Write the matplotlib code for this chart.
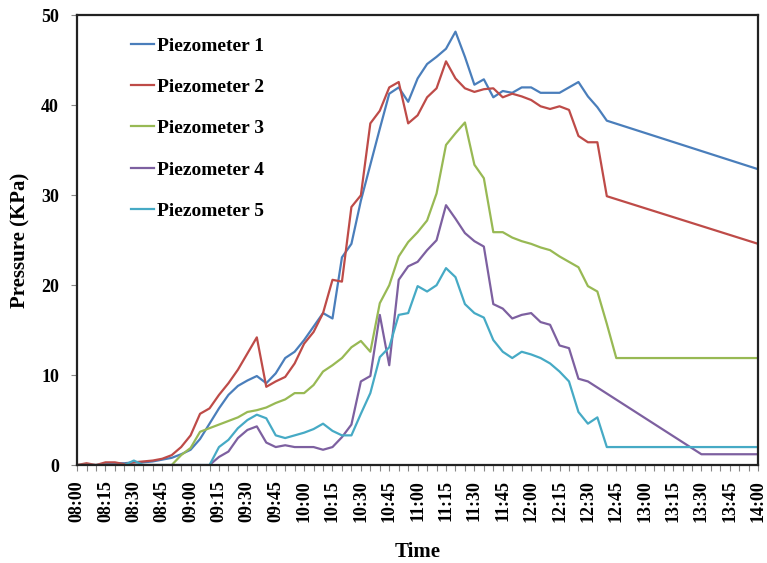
import matplotlib
matplotlib.use("Agg")
import matplotlib.pyplot as plt
from matplotlib.ticker import MultipleLocator

plt.rcParams["font.family"] = ["Liberation Serif", "DejaVu Serif"]
plt.rcParams["font.weight"] = "bold"

# readings every 5 minutes from 08:00; straight tails listed separately
START = "08:00"
STEP = 5

p1 = [0, 0, 0, 0.1, 0.2, 0.2, 0.3, 0.3, 0.4, 0.6,
      0.8, 1.2, 1.7, 2.9, 4.6, 6.3, 7.8, 8.8, 9.4, 9.9,
      9.1, 10.2, 11.9, 12.6, 13.9, 15.4, 16.9, 16.3, 23.1, 24.6,
      29.4, 33.4, 37.4, 41.3, 42.0, 40.4, 43.0, 44.6, 45.4, 46.3,
      48.2, 45.4, 42.3, 42.9, 40.9, 41.6, 41.4, 42.0, 42.0, 41.4,
      41.4, 41.4, 42.0, 42.6, 41.0, 39.8, 38.3]
p1_tail_t = ["14:00"]
p1_tail = [32.9]

p2 = [0, 0.2, 0, 0.3, 0.3, 0.1, 0.3, 0.4, 0.5, 0.7,
      1.1, 2.0, 3.3, 5.7, 6.3, 7.8, 9.1, 10.6, 12.4, 14.2,
      8.7, 9.3, 9.8, 11.3, 13.5, 14.8, 16.9, 20.6, 20.4, 28.7,
      30.0, 38.0, 39.4, 42.0, 42.6, 38.0, 38.9, 40.9, 41.9, 44.9,
      43.0, 41.9, 41.5, 41.8, 41.9, 40.9, 41.3, 41.0, 40.6, 39.9,
      39.6, 39.9, 39.5, 36.6, 35.9, 35.9, 29.9]
p2_tail_t = ["14:00"]
p2_tail = [24.6]

p3 = [0, 0, 0, 0, 0, 0, 0, 0, 0, 0,
      0, 1.1, 1.9, 3.7, 4.1, 4.5, 4.9, 5.3, 5.9, 6.1,
      6.4, 6.9, 7.3, 8.0, 8.0, 8.9, 10.4, 11.1, 11.9, 13.1,
      13.8, 12.6, 18.0, 20.0, 23.2, 24.8, 25.9, 27.2, 30.2, 35.6,
      36.9, 38.1, 33.4, 31.9, 25.9, 25.9, 25.3, 24.9, 24.6, 24.2,
      23.9, 23.2, 22.6, 22.0, 19.9, 19.3, 15.7]
p3_tail_t = ["12:45", "14:00"]
p3_tail = [11.9, 11.9]

p4 = [0, 0, 0, 0, 0, 0, 0, 0, 0, 0,
      0, 0, 0, 0, 0, 0.9, 1.5, 3.0, 3.9, 4.3,
      2.5, 2.0, 2.2, 2.0, 2.0, 2.0, 1.7, 2.0, 3.1, 4.5,
      9.3, 9.9, 16.7, 11.1, 20.6, 22.1, 22.6, 23.9, 25.0, 28.9,
      27.4, 25.8, 24.9, 24.3, 17.9, 17.4, 16.3, 16.7, 16.9, 15.9,
      15.6, 13.3, 13.0, 9.6, 9.3]
p4_tail_t = ["13:30", "14:00"]
p4_tail = [1.2, 1.2]

p5 = [0, 0, 0, 0, 0, 0, 0.5, 0, 0, 0,
      0, 0, 0, 0, 0, 2.0, 2.8, 4.1, 5.0, 5.6,
      5.2, 3.3, 3.0, 3.3, 3.6, 4.0, 4.6, 3.8, 3.3, 3.3,
      5.7, 8.0, 12.0, 13.1, 16.7, 16.9, 19.9, 19.3, 20.0, 21.9,
      20.9, 17.9, 16.9, 16.4, 13.9, 12.6, 11.9, 12.6, 12.3, 11.9,
      11.3, 10.4, 9.3, 5.9, 4.6, 5.3, 2.0]
p5_tail_t = ["14:00"]
p5_tail = [2.0]

labels = ["Piezometer 1", "Piezometer 2", "Piezometer 3", "Piezometer 4", "Piezometer 5"]
colors = ["#4A7EBB", "#BE4B48", "#98B954", "#7D60A0", "#46AAC5"]

to_min_start = int(START[:2]) * 60 + int(START[3:])


def to_min(s):
    h, m = s.split(":")
    return int(h) * 60 + int(m) - to_min_start


def series(vals, tail_t, tail_v):
    t = [i * STEP for i in range(len(vals))] + [to_min(s) for s in tail_t]
    return t, list(vals) + list(tail_v)


fig = plt.figure(figsize=(7.67, 5.63), dpi=100)
ax = fig.add_axes([0.1005, 0.174, 0.8880, 0.7985])

data = [(p1, p1_tail_t, p1_tail), (p2, p2_tail_t, p2_tail), (p3, p3_tail_t, p3_tail),
        (p4, p4_tail_t, p4_tail), (p5, p5_tail_t, p5_tail)]
for (v, tt, tv), lab, col in zip(data, labels, colors):
    t, y = series(v, tt, tv)
    ax.plot(t, y, color=col, lw=1.6, label=lab)

ax.set_xlim(0, 360)
ax.set_ylim(0, 50)
ax.xaxis.set_minor_locator(MultipleLocator(5))
ax.yaxis.set_major_locator(MultipleLocator(10))
ticks = list(range(0, 361, 15))
ax.set_xticks(ticks)
ax.set_xticklabels([f"{(to_min_start + m) // 60:02d}:{(to_min_start + m) % 60:02d}" for m in ticks],
                   rotation=90, fontsize=13, fontweight="bold")
for lbl in ax.get_yticklabels():
    lbl.set_fontsize(13)
    lbl.set_fontweight("bold")
ax.tick_params(axis="both", which="both", direction="out", length=4, width=0.8, color="#888888")
ax.tick_params(axis="x", pad=7)
ax.tick_params(axis="y", pad=9)
for sp in ax.spines.values():
    sp.set_linewidth(1.6)
    sp.set_color("#222222")

ax.set_xlabel("Time", fontsize=15, fontweight="bold", labelpad=14)
ax.set_ylabel("Pressure (KPa)", fontsize=15, fontweight="bold", labelpad=8)

leg = ax.legend(loc="upper left", bbox_to_anchor=(0.065, 0.974), frameon=False,
                prop={"family": "Liberation Serif", "weight": "bold", "size": 14},
                handlelength=1.2, handletextpad=0.15, labelspacing=1.22, borderpad=0)

fig.savefig("out.png", dpi=100)
